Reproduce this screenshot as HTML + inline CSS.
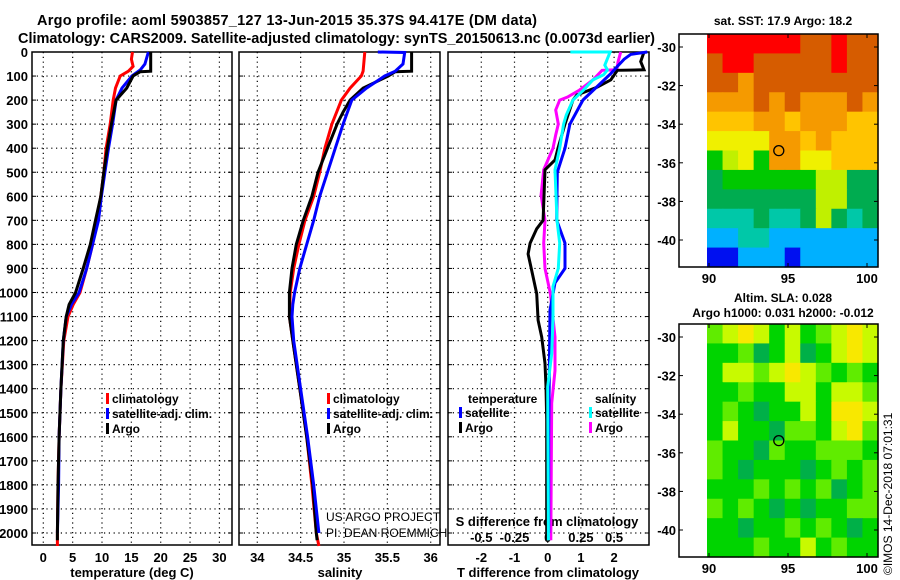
<!DOCTYPE html>
<html><head><meta charset="utf-8"><style>
html,body{margin:0;padding:0;background:#fff;}
svg{display:block;font-family:"Liberation Sans",sans-serif;}
.b{font-weight:bold;}
</style></head><body>
<svg id="s" width="900" height="580" viewBox="0 0 900 580">
<text class="b" x="287" y="25" font-size="14.5" text-anchor="middle" textLength="500">Argo profile: aoml 5903857_127 13-Jun-2015 35.37S 94.417E (DM data)</text>
<text class="b" x="18" y="43" font-size="14.5" textLength="637">Climatology: CARS2009. Satellite-adjusted climatology: synTS_20150613.nc (0.0073d earlier)</text>
<text class="b" x="783" y="25" font-size="12" text-anchor="middle">sat. SST: 17.9 Argo: 18.2</text>
<text class="b" x="783" y="302" font-size="12" text-anchor="middle">Altim. SLA: 0.028</text>
<text class="b" x="783" y="317" font-size="12" text-anchor="middle">Argo h1000: 0.031 h2000: -0.012</text>
<text x="326" y="521" font-size="12">US ARGO PROJECT</text>
<text x="326" y="537" font-size="12">PI: DEAN ROEMMICH</text>
<text x="892" y="575" font-size="12" transform="rotate(-90 892 575)">©IMOS 14-Dec-2018 07:01:31</text>
</svg>
<script>
// ---- data ----
const depthTicks=[0,100,200,300,400,500,600,700,800,900,1000,1100,1200,1300,1400,1500,1600,1700,1800,1900,2000];
const tempTicks=[0,5,10,15,20,25,30];
const salTicks=[34,34.5,35,35.5,36];
const tdiffTicks=[-2,-1,0,1,2];
const sdiffTicks=[-0.5,-0.25,0,0.25,0.5];
const sdiffLabels=["-0.5","-0.25","0","0.25","0.5"];

const argoTD=[0,80,82,100,150,200,300,400,500,600,700,800,900,1000,1050,1100,1200,1400,1600,1800,2000,2030];
const argoT=[18.3,18.3,16.5,15.3,14.2,12.4,11.6,10.9,10.3,9.8,8.9,8.0,6.8,5.5,4.4,3.9,3.4,3.0,2.7,2.5,2.4,2.4];
const climTD=[0,30,60,80,100,150,200,300,400,500,600,700,800,900,1000,1050,1100,1200,1400,1600,1800,2000,2054];
const climT=[15.2,15.0,15.3,14.5,13.1,12.3,11.9,11.4,10.7,10.3,9.8,9.1,8.4,7.4,6.25,5.1,4.2,3.5,3.0,2.7,2.5,2.4,2.4];
const satTD=[0,50,75,100,150,200,300,400,500,600,700,800,900,1000,1050,1100,1200,1400,1600,1800,2000];
const satT=[17.9,17.3,16.5,15.1,13.4,12.4,11.8,11.1,10.5,9.9,9.4,8.4,7.4,6.1,4.8,3.9,3.4,3.0,2.7,2.6,2.4];

const argoSD=[0,80,82,100,150,200,250,300,400,500,600,700,800,900,1000,1100,1200,1400,1600,1800,2000,2030];
const argoS=[35.78,35.78,35.59,35.51,35.22,35.07,34.99,34.92,34.81,34.70,34.63,34.53,34.45,34.40,34.37,34.37,34.41,34.49,34.57,34.64,34.68,34.69];
const climSD=[0,80,100,150,200,300,400,500,600,700,800,900,1000,1100,1200,1400,1600,1800,2000,2054];
const climS=[35.24,35.22,35.20,35.07,34.97,34.86,34.78,34.72,34.65,34.55,34.48,34.42,34.38,34.37,34.41,34.49,34.57,34.63,34.68,34.71];
const satSD=[0,2,50,80,100,150,200,300,400,500,600,700,800,900,1000,1050,1100,1200,1400,1600,1800,2000];
const satS=[35.39,35.70,35.68,35.59,35.47,35.26,35.09,34.99,34.90,34.81,34.72,34.65,34.57,34.49,34.43,34.41,34.40,34.42,34.50,34.58,34.65,34.71];

const tdSatD=[0,10,30,60,90,200,300,400,500,700,795,900,960,1073,1300,1600,2000];
const tdSat=[3.0,2.5,2.3,2.1,1.9,1.06,0.67,0.52,0.29,0.27,0.52,0.52,0.22,0.07,0.05,0.03,0.03];
const tdArgoD=[0,40,74,76,116,146,179,200,300,400,449,490,700,735,795,840,910,1005,1115,1185,1295,1392,1530,1950,2030];
const tdArgo=[2.9,2.8,2.9,2.1,1.9,1.49,0.88,0.76,0.52,0.31,0.22,-0.08,-0.14,-0.33,-0.53,-0.59,-0.48,-0.33,-0.29,-0.18,-0.08,-0.05,-0.03,-0.03,-0.03];
const sdSatD=[0,0,55,75,95,116,158,200,262,300,400,490,700,795,900,975,1115,1255,1392,2000,2030];
const sdSat=[0.17,0.47,0.43,0.45,0.42,0.34,0.27,0.19,0.14,0.12,0.09,0.055,0.07,0.09,0.08,0.04,0.04,0.03,0.0,0.005,0.005];
const sdArgoD=[0,40,74,76,116,158,187,200,241,300,345,400,490,595,700,795,900,1005,1185,1325,1460,2030];
const sdArgo=[0.55,0.53,0.52,0.41,0.34,0.24,0.15,0.09,0.06,0.08,0.06,0.04,-0.03,-0.05,-0.02,-0.03,-0.02,0.02,0.055,0.055,0.03,0.023];

const sstRows=["00000011011","10011111011","11211111111","22212122212","33322322233","44442232333","65462244333","76666665577","77777775577","88878875787","99889999999","AA999A99999"];
const slaRows=["23431312343","11201301343","13323432121","11211331332","12101131443","13110221342","21102112221","21011101212","11121212012","21210101122","11011212101","11121131211"];
const sstColors={"0":"#ff0000","1":"#d65c00","2":"#f59a00","3":"#ffc400","4":"#f0f000","5":"#c0f000","6":"#00c800","7":"#00ac50","8":"#00c8a8","9":"#00b0ff","A":"#0010f0"};
const slaColors={"0":"#00b048","1":"#00d400","2":"#60ec00","3":"#c8fa00","4":"#f8e800"};
const mapLatTicks=[-30,-32,-34,-36,-38,-40];
const mapLonTicks=[90,95,100];
const floatLon=94.417, floatLat=-35.37;

// ---- helpers ----
const NS="http://www.w3.org/2000/svg";
const svg=document.getElementById('s');
function mk(tag,at,parent){const e=document.createElementNS(NS,tag);for(const k in at)e.setAttribute(k,at[k]);(parent||svg).appendChild(e);return e;}
const top0=52, bot=545;
function yD(d){return top0+d*0.2405;}
function lin(d0,d1,r0,r1){return v=>r0+(v-d0)*(r1-r0)/(d1-d0);}
const xT=lin(0,30,43.3,219.4);
const xS=lin(34,36,257.3,430.7);
const xTD=lin(0,1,547.7,580.9);
const xSD=lin(0,0.25,547.7,580.9);
const panels=[[32,232],[239,440],[448,649]];

function line(xs,ds,fx,color,w,name){
  let p=xs.map((v,i)=>(i?'L':'M')+fx(v).toFixed(1)+' '+yD(ds[i]).toFixed(1)).join('');
  const e=mk('path',{d:p,fill:'none',stroke:color,'stroke-width':w,'stroke-linejoin':'miter'});
  
  
}

panels.forEach((p,i)=>{
  const g=mk('g',{});
  
  
  depthTicks.forEach(d=>{ if(d>0) mk('line',{x1:p[0],x2:p[1],y1:yD(d),y2:yD(d),stroke:'#000','stroke-width':1.2,'stroke-dasharray':'1.2,3.6'},g);
    mk('line',{x1:p[0],x2:p[0]+4,y1:yD(d),y2:yD(d),stroke:'#000'},g); mk('line',{x1:p[1]-4,x2:p[1],y1:yD(d),y2:yD(d),stroke:'#000'},g);});
  const fx=[xT,xS,xTD][i], ticks=[tempTicks,salTicks,tdiffTicks][i];
  ticks.forEach(t=>mk('line',{x1:fx(t),x2:fx(t),y1:top0,y2:bot,stroke:'#000','stroke-width':1.2,'stroke-dasharray':'1.2,3.6'},g));
  mk('rect',{x:p[0],y:top0,width:p[1]-p[0],height:bot-top0,fill:'none',stroke:'#000','stroke-width':1.5},g);
});
depthTicks.forEach(d=>{const t=mk('text',{x:28,y:yD(d)+5,'font-size':13,'text-anchor':'end',class:'b'});t.textContent=d;
  
  });
function xlabels(ticks,fx,y,labels,name){ticks.forEach((v,i)=>{const t=mk('text',{x:fx(v),y:y,'font-size':13,'text-anchor':'middle',class:'b'});t.textContent=labels?labels[i]:v;
  
  });}
xlabels(tempTicks,xT,562,null,'temp-tick-label');
xlabels(salTicks,xS,562,null,'sal-tick-label');
xlabels(tdiffTicks,xTD,562,null,'tdiff-tick-label');
xlabels(sdiffTicks,xSD,542,sdiffLabels,'sdiff-tick-label');
[[132,'temperature (deg C)','temp-axis-title'],[340,'salinity','sal-axis-title'],[548,'T difference from climatology','tdiff-axis-title']].forEach(a=>{
  const t=mk('text',{x:a[0],y:577,'font-size':13,'text-anchor':'middle',class:'b'});t.textContent=a[1];
  
  });
{const t=mk('text',{x:547,y:526,'font-size':13,'text-anchor':'middle',class:'b'});t.textContent='S difference from climatology';
  
  }

line(climT,climTD,xT,'#ff0000',3,'temp-climatology-line');
line(satT,satTD,xT,'#0000ff',3,'temp-satellite-line');
line(argoT,argoTD,xT,'#000',3,'temp-argo-line');
line(climS,climSD,xS,'#ff0000',3,'sal-climatology-line');
line(argoS,argoSD,xS,'#000',3,'sal-argo-line');
line(satS,satSD,xS,'#0000ff',3,'sal-satellite-line');
line(sdArgo,sdArgoD,xSD,'#ff00ff',3,'sdiff-argo-line');
line(tdArgo,tdArgoD,xTD,'#000',3,'tdiff-argo-line');
line(tdSat,tdSatD,xTD,'#0000ff',3,'tdiff-satellite-line');
line(sdSat,sdSatD,xSD,'#00ffff',3,'sdiff-satellite-line');

function leg(x,y,color,label,name){const g=mk('g',{});
  
  
  mk('rect',{x:x,y:y-10,width:3,height:11,fill:color},g);
  const t=mk('text',{x:x+6,y:y,'font-size':12,class:'b'},g);t.textContent=label;}
leg(106,403,'#ff0000','climatology','legend-t-climatology');
leg(106,418,'#0000ff','satellite-adj. clim.','legend-t-satellite');
leg(106,433,'#000','Argo','legend-t-argo');
leg(327,403,'#ff0000','climatology','legend-s-climatology');
leg(327,418,'#0000ff','satellite-adj. clim.','legend-s-satellite');
leg(327,433,'#000','Argo','legend-s-argo');
{const t=mk('text',{x:468,y:403,'font-size':12,class:'b'});t.textContent='temperature';
 
 
 const u=mk('text',{x:595,y:403,'font-size':12,class:'b'});u.textContent='salinity';
 
 }
leg(459,417,'#0000ff','satellite','legend-tdiff-satellite');
leg(459,432,'#000','Argo','legend-tdiff-argo');
leg(589,417,'#00ffff','satellite','legend-sdiff-satellite');
leg(589,432,'#ff00ff','Argo','legend-sdiff-argo');

function map(rows,colors,latTop,latBot,ft,name){
  const x0=707,x1=878,fx0=679;
  const g=mk('g',{});
  
  
  const ny=rows.length, nx=rows[0].length;
  const cw=(x1-x0)/nx, ch=(latBot-latTop)/ny;
  rows.forEach((r,j)=>{for(let i=0;i<nx;i++){
    const c=mk('rect',{x:(x0+i*cw).toFixed(2),y:(latTop+j*ch).toFixed(2),width:(cw+0.6).toFixed(2),height:(ch+0.6).toFixed(2),fill:colors[r[i]]},g);
    
    
  }});
  const lonX=lin(90,100,709,867);
  mk('rect',{x:fx0,y:latTop,width:x1-fx0,height:latBot-latTop,fill:'none',stroke:'#000','stroke-width':1.5},g);
  mapLatTicks.forEach(l=>{const y=ft(l);
    mk('line',{x1:x1-4,x2:x1,y1:y,y2:y,stroke:'#000'},g);
    mk('line',{x1:fx0,x2:fx0+4,y1:y,y2:y,stroke:'#000'},g);
    const t=mk('text',{x:676,y:y+5,'font-size':13,'text-anchor':'end',class:'b'},g);t.textContent=l;});
  mapLonTicks.forEach(l=>{const x=lonX(l);
    mk('line',{x1:x,x2:x,y1:latTop,y2:latTop+4,stroke:'#000'},g);
    mk('line',{x1:x,x2:x,y1:latBot-4,y2:latBot,stroke:'#000'},g);
    const t=mk('text',{x:x,y:latBot+16,'font-size':13,'text-anchor':'middle',class:'b'},g);t.textContent=l;});
  const c=mk('circle',{cx:lonX(floatLon),cy:ft(floatLat),r:5,fill:'none',stroke:'#000','stroke-width':1.3},g);
  
  
}
map(sstRows,sstColors,34,267,lin(-30,-40,47,240),'sst-map');
map(slaRows,slaColors,324,557,lin(-30,-40,337,530),'sla-map');
</script>
</body></html>
